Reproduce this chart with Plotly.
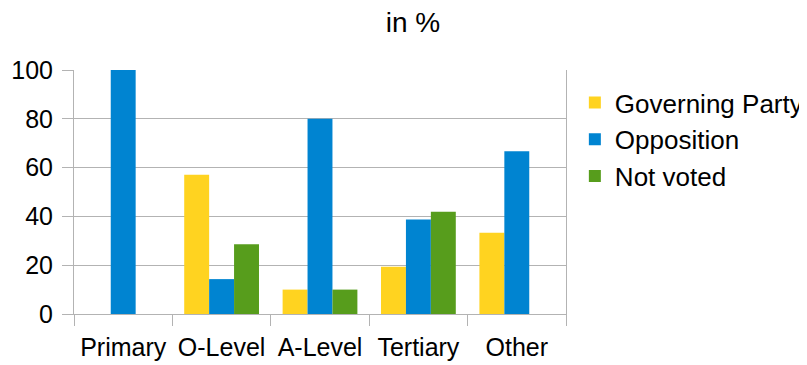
import plotly.graph_objects as go

categories = ["Primary", "O-Level", "A-Level", "Tertiary", "Other"]
governing = [0, 57.1, 10, 19.4, 33.3]
opposition = [100, 14.3, 80, 38.7, 66.7]
not_voted = [0, 28.6, 10, 41.9, 0]
series_names = ["Governing Party", "Opposition", "Not voted"]
colors = ["#FFD320", "#0084D1", "#579D1C"]
y_ticks = [0, 20, 40, 60, 80, 100]

FONT = "Liberation Sans, Arial, sans-serif"
W, H = 799, 357

fig = go.Figure()
for name, vals, col in zip(series_names, [governing, opposition, not_voted], colors):
    fig.add_trace(go.Bar(name=name, x=categories, y=vals, marker_color=col,
                         marker_line_width=0, legendgroup=name))

fig.update_layout(
    width=W, height=H,
    margin=dict(l=66, r=241, t=62, b=51, autoexpand=False),
    paper_bgcolor="white", plot_bgcolor="white",
    font=dict(family=FONT, size=25, color="black"),
    title=dict(text="in %", x=(405 / W), xanchor="center", y=1 - 14 / H, yanchor="middle",
               font=dict(family=FONT, size=28, color="black")),
    barmode="group", bargap=0.24, bargroupgap=0,
    showlegend=True,
    legend=dict(x=1.018, xanchor="left", y=0.715, yanchor="middle",
                font=dict(family=FONT, size=26, color="black"),
                traceorder="normal", tracegroupgap=4, itemwidth=30,
                bgcolor="rgba(0,0,0,0)"),
)
fig.update_xaxes(
    automargin=False,
    tickson="boundaries", ticks="outside", ticklen=11, tickcolor="#b3b3b3",
    showgrid=False, showline=True, linecolor="#b3b3b3", linewidth=1,
    ticklabelstandoff=11, tickfont=dict(family=FONT, size=25, color="black"),
)
fig.update_yaxes(
    automargin=False,
    range=[0, 100], tickvals=y_ticks, ticks="outside", ticklen=11, tickcolor="#b3b3b3",
    showgrid=True, gridcolor="#b3b3b3", gridwidth=1,
    showline=True, linecolor="#b3b3b3", linewidth=1, mirror=True,
    zeroline=False, ticklabelstandoff=4,
    tickfont=dict(family=FONT, size=25, color="black"),
)

fig.write_html("out.html")
